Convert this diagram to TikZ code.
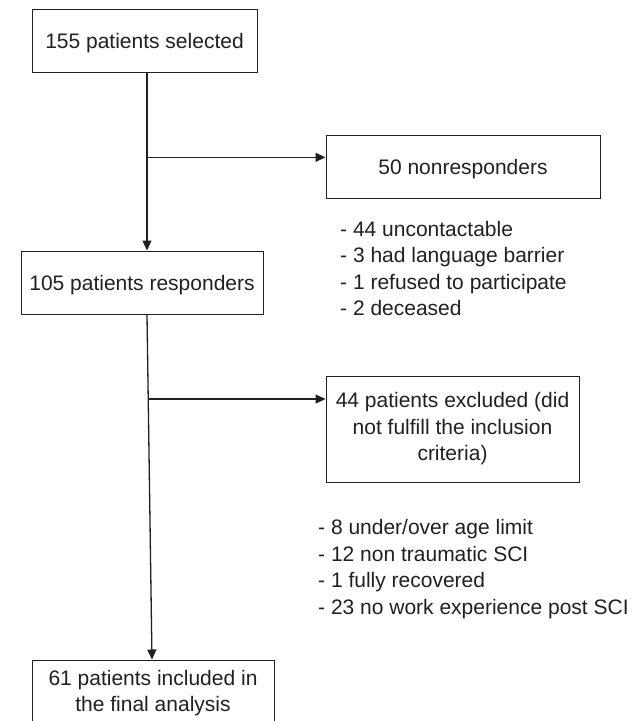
\documentclass[tikz,border=0pt]{standalone}
\usepackage{fontspec}
\setmainfont{Liberation Sans}
\usetikzlibrary{arrows.meta,calc}
\definecolor{ink}{HTML}{231F20}
\begin{document}
\begin{tikzpicture}[x=1pt,y=-1pt,
  txt/.style={text=ink, font=\fontsize{21}{26.5}\selectfont},
  box/.style={txt, draw=ink, line width=1pt, inner sep=0pt, align=center},
  onebox/.style={box, text height=15pt, text depth=0pt},
  conn/.style={draw=ink, line width=1.3pt, -{Triangle[length=10pt,width=9pt]}},
  note/.style={txt, align=left, inner sep=0pt, anchor=west}]
\useasboundingbox (0,0) rectangle (637,721);
\clip (0,0) rectangle (637,721);
\node[onebox, minimum width=225pt, minimum height=63pt] (sel) at (144.5,41) {155 patients selected};
\node[onebox, minimum width=274pt, minimum height=63pt] (nonresp) at (463,166.5) {50 nonresponders};
\node[onebox, minimum width=242pt, minimum height=63pt] (resp) at (142,282.5) {105 patients responders};
\node[box, minimum width=253pt, minimum height=106pt] (excl) at (452.5,429) {44 patients excluded (did\\not fulfill the inclusion\\criteria)};
\node[box, minimum width=242pt, minimum height=66pt] (final) at (153,693) {61 patients included in\\the final analysis};
\node[note] (list1) at (340,268.6) {- 44 uncontactable\\- 3 had language barrier\\- 1 refused to participate\\- 2 deceased};
\node[note] (list2) at (318,569.3) {- 8 under/over age limit\\- 12 non traumatic SCI\\- 1 fully recovered\\- 23 no work experience post SCI};
% first trunk
\coordinate (a1) at ($(sel.south)+(2.5,0)$);
\coordinate (a2) at (a1 |- resp.north);
\draw[conn] (a1) -- (a2);
\coordinate (j1) at ($(a1)!0.475!(a2)$);
\draw[conn] (j1) -- (j1 -| nonresp.west);
% second trunk
\coordinate (b1) at ($(resp.south)+(5,0)$);
\coordinate (b2) at ($(final.north)+(-1,0)$);
\draw[conn] (b1) -- (b2);
\coordinate (j2) at ($(b1)!0.245!(b2)$);
\draw[conn] (j2) -- (j2 -| excl.west);
\end{tikzpicture}
\end{document}
